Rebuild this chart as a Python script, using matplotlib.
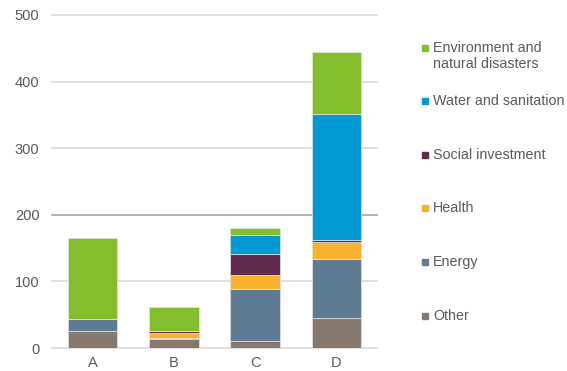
import matplotlib
matplotlib.use("Agg")
import matplotlib.pyplot as plt
from matplotlib.patches import Rectangle

plt.rcParams['font.family'] = ['Liberation Sans', 'DejaVu Sans']

# data
categories = ['A', 'B', 'C', 'D']
other = [26, 13, 11, 45]
energy = [18, 2.5, 78, 88]
health = [0, 7.5, 21, 26]
social = [0, 2.5, 31, 3]
water = [0, 0, 28, 190]
environment = [121, 36, 11, 92]
y_ticks = [0, 100, 200, 300, 400, 500]

series = [
    ('Other', other, '#86786c'),
    ('Energy', energy, '#5f7b94'),
    ('Health', health, '#f8b22e'),
    ('Social investment', social, '#612b4e'),
    ('Water and sanitation', water, '#0099d4'),
    ('Environment and\nnatural disasters', environment, '#84bd2b'),
]

fig = plt.figure(figsize=(5.67, 3.71), dpi=100)
ax = fig.add_axes([52 / 567, 1 - 348 / 371, 325 / 567, 333 / 371])

x = list(range(len(categories)))
bottom = [0] * len(categories)
for name, vals, color in series:
    ax.bar(x, vals, width=0.61, bottom=bottom, color=color,
           edgecolor='#e6e6e6', linewidth=0.5, zorder=3)
    bottom = [b + v for b, v in zip(bottom, vals)]

ax.set_xlim(-0.5, 3.5)
ax.set_ylim(0, 500)
ax.set_yticks(y_ticks)
ax.set_xticks(x)
ax.set_xticklabels(categories)
ax.tick_params(length=0, labelsize=10.5, labelcolor='#595959')
ax.tick_params(axis='y', pad=9)
ax.tick_params(axis='x', pad=6)
for s in ax.spines.values():
    s.set_visible(False)

for t in y_ticks:
    c = '#a6a6a6' if t == 200 else '#d9d9d9'
    ax.axhline(t, color=c, linewidth=1.2, zorder=1, clip_on=False)

# legend drawn by hand so the square sits on the first text line
legend_y = [48, 101, 155, 208, 262, 316]
for (name, vals, color), ly in zip(reversed(series), legend_y):
    fy = 1 - ly / 371
    fig.add_artist(Rectangle((422 / 567, fy - 3 / 371), 6 / 567, 6 / 371,
                             transform=fig.transFigure, color=color))
    fig.text(433 / 567, fy + 7 / 371, name, fontsize=10.3, color='#595959',
             va='top', ha='left', linespacing=1.2)

fig.savefig('out.png', dpi=100)
